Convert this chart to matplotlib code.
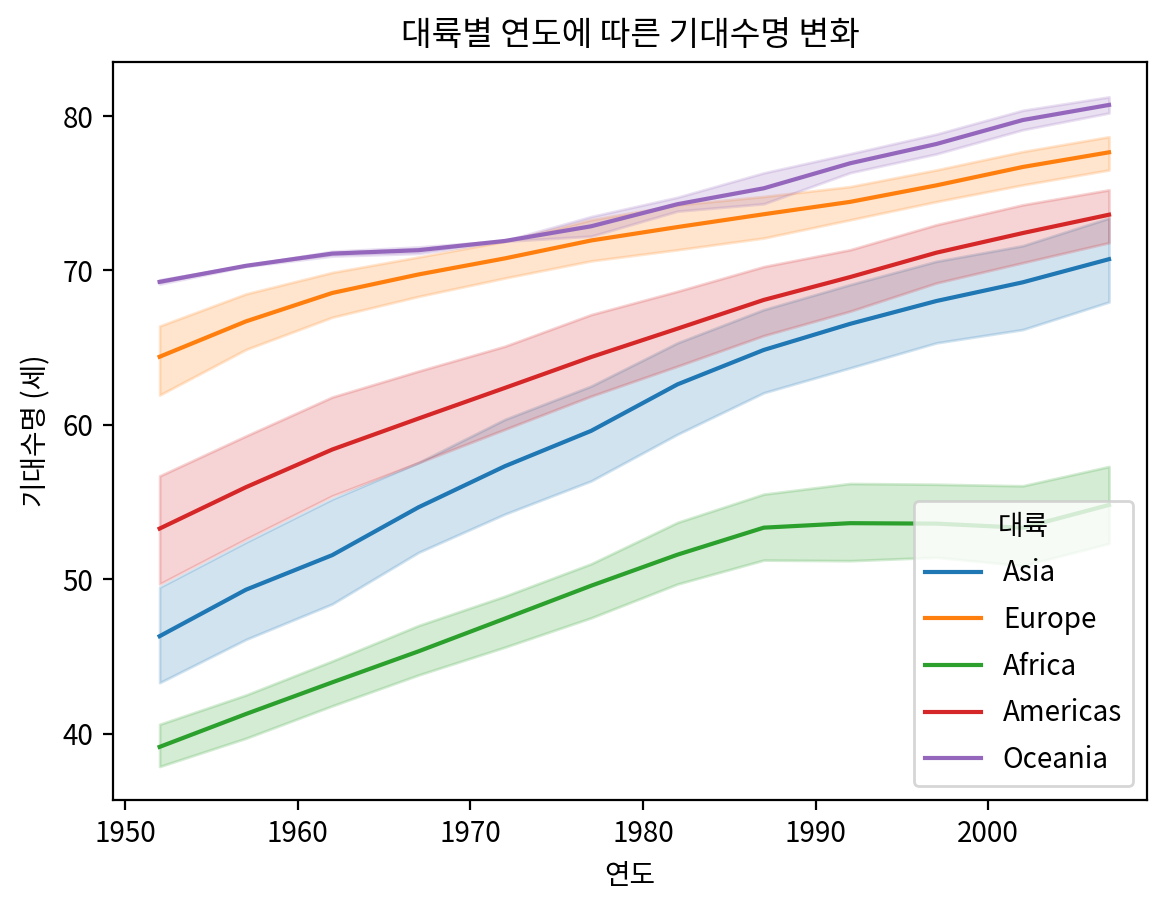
import matplotlib
matplotlib.use('Agg')
import matplotlib.pyplot as plt

plt.rcParams['font.family'] = ['Noto Sans CJK KR', 'DejaVu Sans']
plt.rcParams['axes.unicode_minus'] = False

years = [1952, 1957, 1962, 1967, 1972, 1977, 1982, 1987, 1992, 1997, 2002, 2007]
continents = ['Asia', 'Europe', 'Africa', 'Americas', 'Oceania']

# mean life expectancy per continent
asia_mean = [46.31, 49.32, 51.56, 54.66, 57.32, 59.61, 62.62, 64.85, 66.54, 68.02, 69.23, 70.73]
europe_mean = [64.41, 66.70, 68.54, 69.74, 70.78, 71.94, 72.81, 73.64, 74.44, 75.51, 76.70, 77.65]
africa_mean = [39.14, 41.27, 43.32, 45.33, 47.45, 49.58, 51.59, 53.34, 53.63, 53.60, 53.33, 54.81]
americas_mean = [53.28, 55.96, 58.40, 60.41, 62.39, 64.39, 66.23, 68.09, 69.57, 71.15, 72.42, 73.61]
oceania_mean = [69.26, 70.30, 71.09, 71.31, 71.91, 72.86, 74.29, 75.32, 76.94, 78.19, 79.74, 80.72]

# confidence band (lower / upper)
asia_lo = [43.30, 46.10, 48.40, 51.74, 54.22, 56.37, 59.39, 62.08, 63.69, 65.31, 66.17, 67.96]
asia_hi = [49.48, 52.40, 55.19, 57.56, 60.35, 62.51, 65.31, 67.46, 69.08, 70.59, 71.60, 73.39]
europe_lo = [61.93, 64.88, 66.97, 68.32, 69.51, 70.62, 71.34, 72.10, 73.28, 74.46, 75.54, 76.51]
europe_hi = [66.40, 68.48, 69.87, 70.87, 71.88, 73.28, 74.25, 74.79, 75.43, 76.51, 77.70, 78.66]
africa_lo = [37.87, 39.70, 41.80, 43.80, 45.60, 47.50, 49.69, 51.24, 51.20, 51.42, 50.88, 52.32]
africa_hi = [40.60, 42.50, 44.70, 47.00, 48.90, 51.00, 53.68, 55.51, 56.20, 56.15, 56.05, 57.30]
americas_lo = [49.69, 52.60, 55.40, 57.55, 59.71, 61.86, 63.80, 65.78, 67.36, 69.19, 70.50, 71.80]
americas_hi = [56.69, 59.28, 61.80, 63.48, 65.09, 67.14, 68.65, 70.25, 71.34, 72.96, 74.25, 75.22]
oceania_lo = [69.12, 70.26, 70.93, 71.10, 71.89, 72.22, 73.84, 74.32, 76.33, 77.55, 79.11, 80.20]
oceania_hi = [69.39, 70.33, 71.24, 71.52, 71.93, 73.49, 74.74, 76.32, 77.56, 78.83, 80.37, 81.24]

means = [asia_mean, europe_mean, africa_mean, americas_mean, oceania_mean]
lows = [asia_lo, europe_lo, africa_lo, americas_lo, oceania_lo]
highs = [asia_hi, europe_hi, africa_hi, americas_hi, oceania_hi]
colors = ['#1f77b4', '#ff7f0e', '#2ca02c', '#d62728', '#9467bd']

fig = plt.figure(figsize=(1173 / 200, 915 / 200), dpi=200)
ax = fig.add_axes([113 / 1173, 1 - 800 / 915, 1034 / 1173, 738 / 915])

for name, m, lo, hi, c in zip(continents, means, lows, highs, colors):
    ax.fill_between(years, lo, hi, color=c, alpha=0.2)
    ax.plot(years, m, color=c, lw=1.5, label=name)

ax.set_xlim(1949.3, 2009.2)
ax.set_ylim(35.7, 83.5)
ax.set_yticks([40, 50, 60, 70, 80])
ax.set_title('대륙별 연도에 따른 기대수명 변화', fontsize=12)
ax.set_xlabel('연도')
ax.set_ylabel('기대수명 (세)')
ax.legend(title='대륙', loc='lower right', labelspacing=0.6)

fig.savefig('out.png', dpi=200)
